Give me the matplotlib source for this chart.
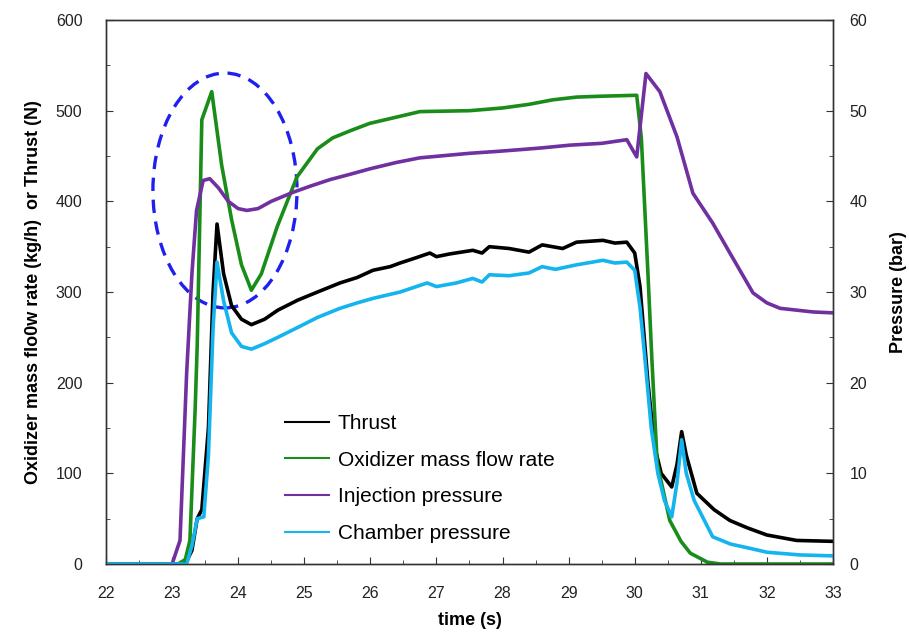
import matplotlib
matplotlib.use("Agg")
import matplotlib.pyplot as plt
from matplotlib.patches import Ellipse
from matplotlib.ticker import MultipleLocator

plt.rcParams['font.family'] = ['Liberation Sans', 'DejaVu Sans']

# thrust (N), left axis
t_thrust = [22.0, 23.2, 23.3, 23.38, 23.45, 23.55, 23.62, 23.68, 23.78, 23.9, 24.05, 24.2,
            24.4, 24.6, 24.9, 25.2, 25.54, 25.8, 26.04, 26.3, 26.45, 26.7, 26.9, 27.0,
            27.2, 27.55, 27.69, 27.8, 28.1, 28.4, 28.6, 28.91, 29.12, 29.52, 29.7, 29.88,
            30.0, 30.08, 30.2, 30.3, 30.4, 30.56, 30.64, 30.71, 30.78, 30.94, 31.2, 31.44,
            31.7, 32.0, 32.45, 33.0]
thrust = [0, 0, 15, 50, 60, 150, 300, 375, 320, 285, 270, 264,
          270, 280, 291, 300, 310, 316, 324, 328, 332, 338, 343, 339,
          342, 346, 343, 350, 348, 344, 352, 348, 355, 357, 354, 355,
          343, 306, 200, 130, 100, 85, 110, 146, 120, 78, 60, 48,
          40, 32, 26, 25]

# oxidizer mass flow rate (kg/h), left axis
t_oxid = [22.0, 23.09, 23.2, 23.27, 23.35, 23.38, 23.45, 23.6, 23.75, 23.9, 24.05, 24.2,
          24.35, 24.59, 24.89, 25.04, 25.2, 25.43, 25.7, 25.99, 26.4, 26.75, 27.5, 28.0,
          28.4, 28.76, 29.12, 29.5, 30.03, 30.1, 30.2, 30.26, 30.34, 30.53, 30.7, 30.84,
          31.1, 31.3, 33.0]
oxid = [0, 0, 5, 26, 173, 240, 490, 521, 440, 380, 330, 302,
        320, 372, 427, 442, 458, 470, 478, 486, 493, 499, 500, 503,
        507, 512, 515, 516, 517, 470, 320, 225, 111, 48, 25, 12,
        2, 0, 0]

# injection pressure (bar), right axis
t_inj = [22.0, 23.0, 23.12, 23.22, 23.3, 23.37, 23.47, 23.57, 23.7, 23.85, 24.0, 24.13,
         24.3, 24.5, 24.83, 25.1, 25.39, 25.7, 26.0, 26.4, 26.75, 27.2, 27.5, 27.9,
         28.26, 28.6, 29.02, 29.5, 29.88, 30.03, 30.17, 30.38, 30.64, 30.88, 31.18, 31.44,
         31.79, 32.0, 32.2, 32.7, 33.0]
inj = [0, 0, 2.6, 21.0, 32.0, 39.0, 42.3, 42.5, 41.5, 40.0, 39.2, 39.0,
       39.2, 40.0, 41.0, 41.7, 42.4, 43.0, 43.6, 44.3, 44.8, 45.1, 45.3, 45.5,
       45.7, 45.9, 46.2, 46.4, 46.8, 44.9, 54.1, 52.1, 47.1, 40.9, 37.6, 34.3,
       29.9, 28.8, 28.2, 27.8, 27.7]

# chamber pressure (bar), right axis
t_cham = [22.0, 23.22, 23.3, 23.38, 23.48, 23.55, 23.62, 23.68, 23.78, 23.9, 24.05, 24.2,
          24.4, 24.6, 24.93, 25.2, 25.54, 25.8, 26.04, 26.45, 26.86, 27.0, 27.3, 27.55,
          27.69, 27.8, 28.1, 28.4, 28.6, 28.8, 29.12, 29.52, 29.7, 29.88, 30.0, 30.08,
          30.15, 30.25, 30.35, 30.45, 30.56, 30.64, 30.71, 30.78, 30.9, 31.18, 31.45, 31.7,
          32.0, 32.5, 33.0]
cham = [0, 0, 2.0, 5.0, 5.2, 12.0, 26.0, 33.3, 29.0, 25.5, 24.0, 23.7,
        24.3, 25.0, 26.2, 27.2, 28.2, 28.8, 29.3, 30.0, 31.0, 30.6, 31.0, 31.5,
        31.1, 31.9, 31.8, 32.1, 32.8, 32.5, 33.0, 33.5, 33.2, 33.3, 32.4, 28.3,
        23.0, 15.0, 10.0, 7.0, 5.2, 9.0, 13.7, 10.0, 7.0, 3.0, 2.2, 1.8,
        1.3, 1.0, 0.9]

labels = ['Thrust', 'Oxidizer mass flow rate', 'Injection pressure', 'Chamber pressure']
colors = ['black', '#1a8c1a', '#7030a0', '#14b4ee']

fig = plt.figure(figsize=(9.09, 6.44), dpi=100)
ax = fig.add_axes([0.1166, 0.1242, 0.7998, 0.8447])
ax2 = ax.twinx()

l1, = ax.plot(t_thrust, thrust, color=colors[0], lw=2.6)
l2, = ax.plot(t_oxid, oxid, color=colors[1], lw=2.6)
l3, = ax2.plot(t_inj, inj, color=colors[2], lw=2.6)
l4, = ax2.plot(t_cham, cham, color=colors[3], lw=2.6)

# dashed circle around the start-up transient
ell = Ellipse((23.8, 412), 2.18, 259, fill=False, edgecolor='#1f1fef',
              lw=2.4, linestyle=(0, (4, 2.6)))
ax.add_patch(ell)

ax.set_xlim(22, 33)
ax.set_ylim(0, 600)
ax2.set_ylim(0, 60)
ax.xaxis.set_major_locator(MultipleLocator(1))
ax.xaxis.set_minor_locator(MultipleLocator(0.5))
ax.yaxis.set_major_locator(MultipleLocator(100))
ax.yaxis.set_minor_locator(MultipleLocator(50))
ax2.yaxis.set_major_locator(MultipleLocator(10))
ax2.yaxis.set_minor_locator(MultipleLocator(5))

ax.tick_params(axis='x', which='both', direction='in', labelsize=11.5, pad=16, colors='#333333', labelcolor='#222222')
ax.tick_params(axis='y', which='both', direction='in', labelsize=11.5, pad=17, colors='#333333', labelcolor='#222222')
ax2.tick_params(axis='y', which='both', direction='in', labelsize=11.5, pad=12, colors='#333333', labelcolor='#222222')
ax.tick_params(which='major', length=5)
ax.tick_params(which='minor', length=3)
ax2.tick_params(which='major', length=5)
ax2.tick_params(which='minor', length=3)
for a in (ax, ax2):
    for s in a.spines.values():
        s.set_color('#333333')
        s.set_linewidth(1.0)

ax.set_xlabel('time (s)', fontsize=13, fontweight='bold', labelpad=8)
ax.set_ylabel('Oxidizer mass flo0w rate (kg/h)  or Thrust (N)', fontsize=13, fontweight='bold', labelpad=10)
ax2.set_ylabel('Pressure (bar)', fontsize=13, fontweight='bold', labelpad=16)

leg = ax2.legend([l1, l2, l3, l4], labels, loc='upper left', bbox_to_anchor=(0.246, 0.276),
                 frameon=False, fontsize=15, handlelength=2.1, handletextpad=0.45,
                 labelspacing=0.85, borderpad=0, borderaxespad=0)
for h in leg.get_lines():
    h.set_linewidth(1.5)

fig.savefig('out.png', dpi=100)
